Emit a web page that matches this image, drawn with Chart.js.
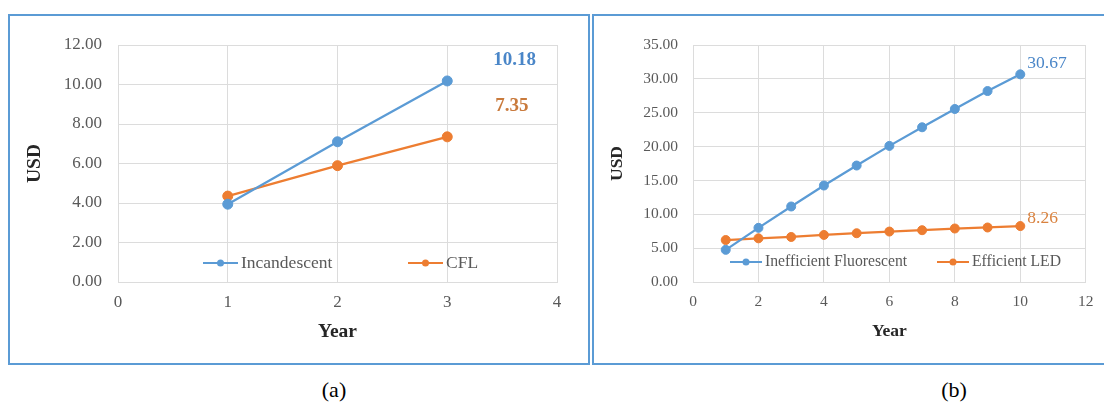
<!DOCTYPE html>
<html>
<head>
<meta charset="utf-8">
<script src="https://cdn.jsdelivr.net/npm/chart.js@4.4.1/dist/chart.umd.min.js"></script>
<style>
  html, body { margin: 0; padding: 0; background: #fff; width: 1104px; height: 407px; overflow: hidden; }
  .panel { position: absolute; border: 2px solid #5b9bd5; box-sizing: border-box; }
  #boxA { left: 8px; top: 14px; width: 582px; height: 351px; }
  #boxB { left: 592px; top: 14px; width: 540px; height: 351px; }
  canvas { position: absolute; }
  #chartA { left: 10px; top: 16px; }
  #chartB { left: 594px; top: 16px; }
  .cap { position: absolute; top: 377px; line-height: 26px; font: 22px "Liberation Serif", serif; color: #000; transform: translateX(-50%); white-space: nowrap; }
</style>
</head>
<body>
<div class="panel" id="boxA"></div>
<div class="panel" id="boxB"></div>
<canvas id="chartA" width="578" height="347"></canvas>
<canvas id="chartB" width="510" height="347"></canvas>
<div class="cap" style="left:334px">(a)</div>
<div class="cap" style="left:954px">(b)</div>

<script>
// ---- (a) Incandescent vs CFL ----
const yearsA = [1, 2, 3];
const incandescent = [3.94, 7.10, 10.18];
const cfl = [4.35, 5.89, 7.35];
const seriesNamesA = ['Incandescent', 'CFL'];
const xTicksA = [0, 1, 2, 3, 4];
const yTicksA = [0, 2, 4, 6, 8, 10, 12];

// ---- (b) Inefficient Fluorescent vs Efficient LED ----
const yearsB = [1, 2, 3, 4, 5, 6, 7, 8, 9, 10];
const inefficientFluorescent = [4.75, 8.0, 11.15, 14.25, 17.2, 20.1, 22.85, 25.55, 28.2, 30.67];
const efficientLED = [6.2, 6.45, 6.65, 6.95, 7.2, 7.45, 7.65, 7.9, 8.05, 8.26];
const seriesNamesB = ['Inefficient Fluorescent', 'Efficient LED'];
const xTicksB = [0, 2, 4, 6, 8, 10, 12];
const yTicksB = [0, 5, 10, 15, 20, 25, 30, 35];

const BLUE = '#5b9bd5';
const ORANGE = '#ed7d31';
const SERIF = '"Liberation Serif", "Times New Roman", serif';
const GRID = '#dcdcdc';
const TICK = '#595959';

const toPoints = (xs, ys) => xs.map((x, i) => ({ x: x, y: ys[i] }));

// Value label next to the final point of each series
const lastValueLabels = {
  id: 'lastValueLabels',
  afterDatasetsDraw(chart, args, opts) {
    const ctx = chart.ctx;
    chart.data.datasets.forEach((ds, i) => {
      const meta = chart.getDatasetMeta(i);
      const el = meta.data[meta.data.length - 1];
      const last = ds.data[ds.data.length - 1];
      const o = opts.items[i];
      ctx.save();
      ctx.font = opts.font;
      ctx.fillStyle = o.color;
      ctx.textAlign = 'left';
      ctx.textBaseline = 'middle';
      ctx.fillText(last.y.toFixed(2), el.x + o.dx, el.y + o.dy);
      ctx.restore();
    });
  }
};

// Legend drawn inside the plot area, near its bottom
const inlineLegend = {
  id: 'inlineLegend',
  afterDraw(chart, args, opts) {
    const ctx = chart.ctx;
    chart.data.datasets.forEach((ds, i) => {
      const x0 = opts.x[i], y = opts.y, L = opts.lineLength;
      ctx.save();
      ctx.strokeStyle = ds.borderColor;
      ctx.lineWidth = 2;
      ctx.beginPath();
      ctx.moveTo(x0, y);
      ctx.lineTo(x0 + L, y);
      ctx.stroke();
      ctx.fillStyle = ds.pointBackgroundColor;
      ctx.beginPath();
      ctx.arc(x0 + L / 2, y, opts.markerRadius, 0, Math.PI * 2);
      ctx.fill();
      ctx.font = opts.font;
      ctx.fillStyle = opts.color;
      ctx.textAlign = 'left';
      ctx.textBaseline = 'middle';
      ctx.fillText(ds.label, x0 + L + opts.gap, y);
      ctx.restore();
    });
  }
};

function lineDataset(label, color, xs, ys, radius) {
  return {
    label: label,
    data: toPoints(xs, ys),
    borderColor: color,
    backgroundColor: color,
    pointBackgroundColor: color,
    pointBorderColor: color,
    borderWidth: 2.25,
    pointRadius: radius,
    pointBorderWidth: 1,
    tension: 0
  };
}

function makeChart(id, p) {
  return new Chart(document.getElementById(id), {
    type: 'line',
    data: { datasets: p.datasets },
    plugins: [lastValueLabels, inlineLegend],
    options: {
      responsive: false,
      animation: false,
      devicePixelRatio: 1,
      layout: { padding: p.padding },
      plugins: {
        legend: { display: false },
        tooltip: { enabled: false },
        lastValueLabels: p.valueLabels,
        inlineLegend: p.legend
      },
      scales: {
        x: {
          type: 'linear',
          min: p.xTicks[0],
          max: p.xTicks[p.xTicks.length - 1],
          afterBuildTicks: s => { s.ticks = p.xTicks.map(v => ({ value: v })); },
          afterFit: s => { s.height = p.xHeight; },
          grid: { color: GRID, lineWidth: 1, drawTicks: false },
          border: { color: GRID },
          ticks: { color: TICK, padding: p.xTickPad, font: { family: SERIF, size: p.tickSize }, callback: v => String(v) },
          title: { display: true, text: 'Year', color: '#262626', padding: { top: 0, bottom: p.xTitlePad }, font: { family: SERIF, size: p.titleSize, weight: 'bold' } }
        },
        y: {
          type: 'linear',
          min: p.yTicks[0],
          max: p.yTicks[p.yTicks.length - 1],
          afterBuildTicks: s => { s.ticks = p.yTicks.map(v => ({ value: v })); },
          afterFit: s => { s.width = p.yWidth; },
          grid: { color: GRID, lineWidth: 1, drawTicks: false },
          border: { color: GRID },
          ticks: { color: TICK, padding: p.yTickPad, font: { family: SERIF, size: p.tickSize }, callback: v => Number(v).toFixed(2) },
          title: { display: true, text: 'USD', color: '#262626', padding: { top: p.yTitlePad, bottom: 0 }, font: { family: SERIF, size: p.titleSize, weight: 'bold' } }
        }
      }
    }
  });
}

makeChart('chartA', {
  datasets: [
    lineDataset(seriesNamesA[0], BLUE, yearsA, incandescent, 5),
    lineDataset(seriesNamesA[1], ORANGE, yearsA, cfl, 5)
  ],
  xTicks: xTicksA,
  yTicks: yTicksA,
  padding: { top: 29, right: 31, bottom: 0, left: 0 },
  xHeight: 81,
  yWidth: 108,
  tickSize: 17,
  titleSize: 19.5,
  xTickPad: 10,
  yTickPad: 16,
  xTitlePad: 19,
  yTitlePad: 13,
  valueLabels: {
    font: 'bold 19px ' + SERIF,
    items: [
      { color: '#4a86c8', dx: 46, dy: -21 },
      { color: '#c97a3c', dx: 48, dy: -31 }
    ]
  },
  legend: {
    y: 247, x: [193, 398], lineLength: 35, gap: 3, markerRadius: 3.5,
    font: '17.5px ' + SERIF, color: TICK
  }
});

makeChart('chartB', {
  datasets: [
    lineDataset(seriesNamesB[0], BLUE, yearsB, inefficientFluorescent, 4.5),
    lineDataset(seriesNamesB[1], ORANGE, yearsB, efficientLED, 4.5)
  ],
  xTicks: xTicksB,
  yTicks: yTicksB,
  padding: { top: 29, right: 9, bottom: 0, left: 0 },
  xHeight: 81,
  yWidth: 99,
  tickSize: 15.5,
  titleSize: 17.5,
  xTickPad: 10.5,
  yTickPad: 15,
  xTitlePad: 21,
  yTitlePad: 12.5,
  valueLabels: {
    font: '17.5px ' + SERIF,
    items: [
      { color: '#4a86c8', dx: 7, dy: -11 },
      { color: '#d9823f', dx: 7, dy: -8 }
    ]
  },
  legend: {
    y: 246, x: [136, 343], lineLength: 32, gap: 3, markerRadius: 3.5,
    font: '15.7px ' + SERIF, color: TICK
  }
});
</script>
</body>
</html>
